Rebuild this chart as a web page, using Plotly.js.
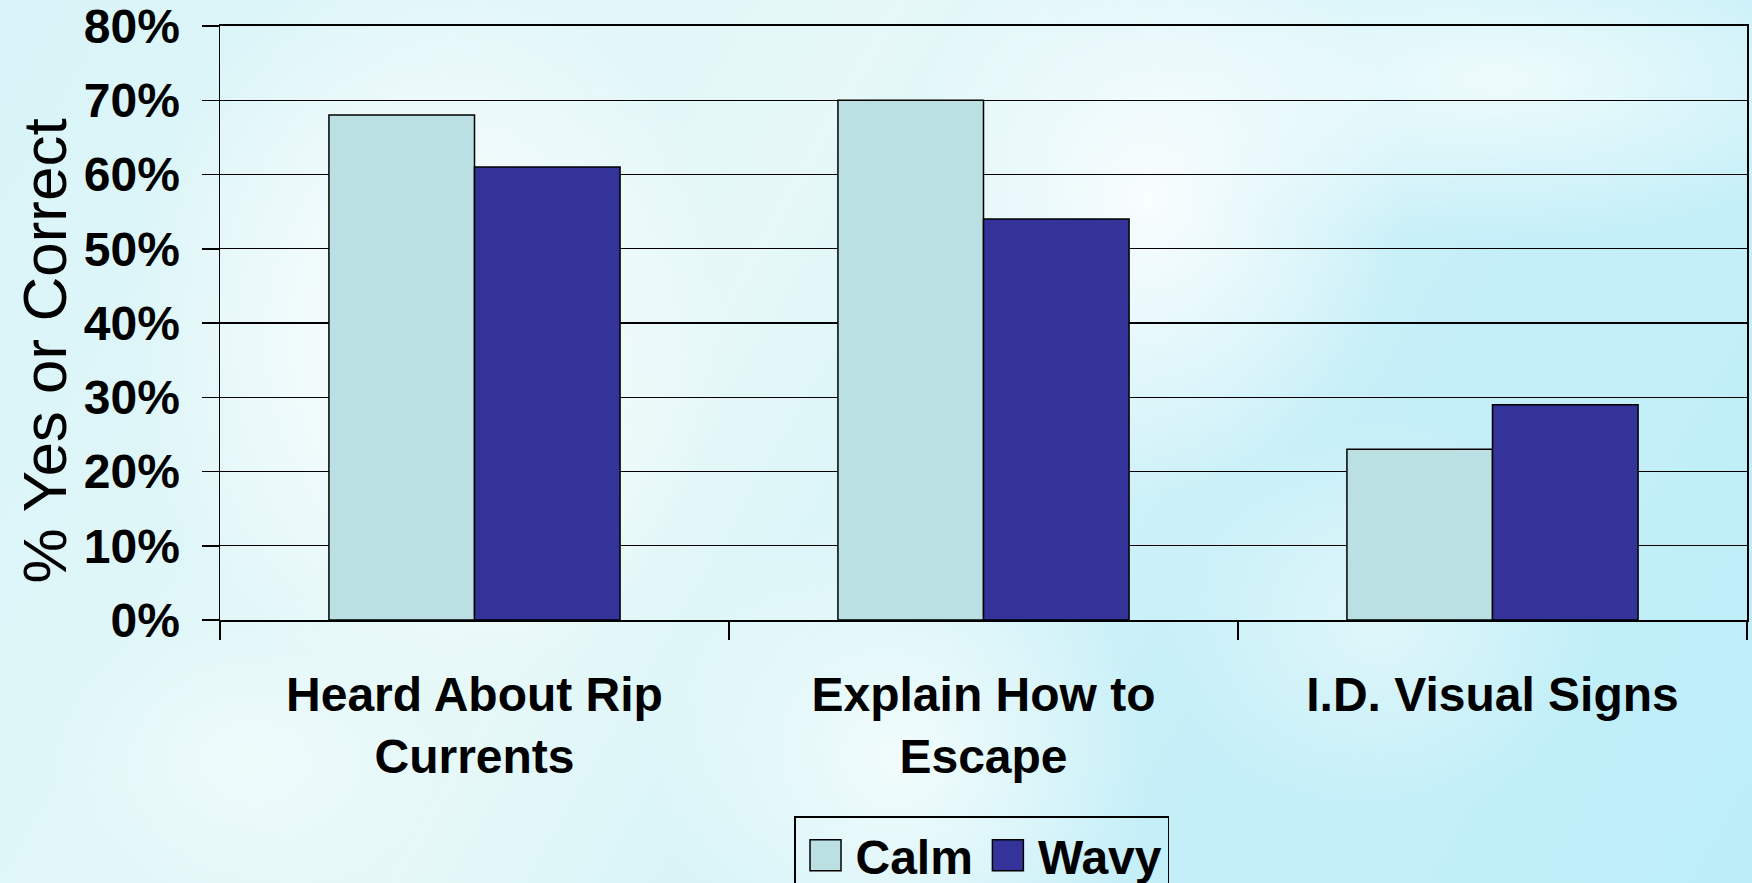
<!DOCTYPE html>
<html>
<head>
<meta charset="utf-8">
<script src="https://cdn.plot.ly/plotly-3.0.1.min.js"></script>
<style>
  html, body { margin: 0; padding: 0; width: 1752px; height: 883px; overflow: hidden; }
  body {
    background-color: #bfeef8;
    background-image:
      radial-gradient(ellipse 300px 380px at 430px 330px, rgba(255,255,255,0.95), rgba(255,255,255,0) 100%),
      radial-gradient(ellipse 260px 300px at 1150px 200px, rgba(255,255,255,0.85), rgba(255,255,255,0) 100%),
      radial-gradient(ellipse 420px 160px at 1500px 80px, rgba(240,252,252,0.95), rgba(255,255,255,0) 100%),
      radial-gradient(ellipse 250px 250px at 900px 760px, rgba(245,253,252,0.9), rgba(255,255,255,0) 100%),
      radial-gradient(ellipse 200px 150px at 250px 760px, rgba(240,252,252,0.85), rgba(255,255,255,0) 100%),
      radial-gradient(ellipse 220px 200px at 1380px 620px, rgba(235,250,250,0.7), rgba(255,255,255,0) 100%),
      linear-gradient(120deg, #d8f4f8 0%, #e6f8f8 40%, #c6eff8 70%, #bdeef8 100%);
  }
  #chart { width: 1752px; height: 883px; }
</style>
</head>
<body>
<div id="chart"></div>
<script>
const categories = ["Heard About Rip Currents", "Explain How to Escape", "I.D. Visual Signs"];
const tickLabels = ["Heard About Rip<br>Currents", "Explain How to<br>Escape", "I.D. Visual Signs"];
const seriesNames = ["Calm", "Wavy"];
const calmValues = [68, 70, 23];
const wavyValues = [61, 54, 29];
const yTickVals = [0, 10, 20, 30, 40, 50, 60, 70, 80];
const yTickText = ["0%", "10%", "20%", "30%", "40%", "50%", "60%", "70%", "80%"];

const boldFont = { family: "Liberation Sans, Arial, sans-serif", size: 48, color: "#000", weight: 700 };

const traces = [
  {
    type: "bar", name: seriesNames[0], x: categories, y: calmValues,
    marker: { color: "#bbe0e3", line: { color: "#000", width: 1.5 } },
    hoverinfo: "skip"
  },
  {
    type: "bar", name: seriesNames[1], x: categories, y: wavyValues,
    marker: { color: "#333399", line: { color: "#000", width: 1.5 } },
    hoverinfo: "skip"
  }
];

const layout = {
  width: 1752, height: 883,
  margin: { l: 220, r: 5, t: 26, b: 263, pad: 0, autoexpand: false },
  paper_bgcolor: "rgba(0,0,0,0)",
  plot_bgcolor: "rgba(0,0,0,0)",
  barmode: "group",
  bargap: 0.428,
  bargroupgap: 0,
  showlegend: true,
  legend: {
    orientation: "h",
    x: 0.4987, xanchor: "center",
    y: -0.33, yanchor: "top",
    bgcolor: "rgba(0,0,0,0)",
    bordercolor: "#000", borderwidth: 1.5,
    font: boldFont,
    itemwidth: 50,
    traceorder: "normal"
  },
  xaxis: {
    type: "category",
    tickvals: categories,
    ticktext: tickLabels,
    tickfont: boldFont,
    showline: true, linecolor: "#000", linewidth: 2,
    mirror: true,
    ticks: "outside", tickson: "boundaries", ticklen: 18, tickwidth: 1.5, tickcolor: "#000",
    ticklabelstandoff: 31,
    showgrid: false,
    zeroline: false
  },
  yaxis: {
    range: [0, 80],
    tickvals: yTickVals,
    ticktext: yTickText,
    tickfont: boldFont,
    ticklabeloverflow: "allow",
    showline: true, linecolor: "#000", linewidth: 1.5,
    mirror: true,
    ticks: "outside", ticklen: 17, tickwidth: 1.5, tickcolor: "#000",
    showgrid: true, gridcolor: "#000", gridwidth: 1.3,
    zeroline: false,
    ticklabelstandoff: 12
  },
  annotations: [
    {
      text: "% Yes or Correct",
      xref: "paper", yref: "paper",
      x: -0.1146, y: 0.452,
      xanchor: "center", yanchor: "middle",
      textangle: -90,
      showarrow: false,
      font: { family: "Liberation Sans, Arial, sans-serif", size: 62, color: "#000" }
    }
  ]
};

Plotly.newPlot("chart", traces, layout, { displayModeBar: false, staticPlot: true }).then(function (gd) {
  // enlarge the legend swatches to match the reference's large square keys
  gd.querySelectorAll(".legend .legendpoints path").forEach(function (p) {
    p.setAttribute("d", "M15.5,15.5H-15.5V-15.5H15.5Z");
  });
});
</script>
</body>
</html>
